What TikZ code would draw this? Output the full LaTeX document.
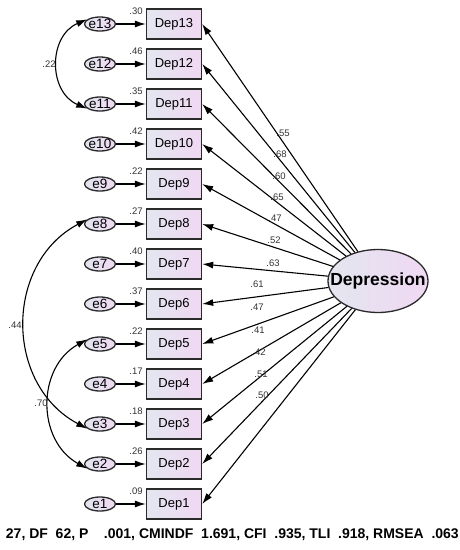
\documentclass[tikz,border=0pt]{standalone}
\usepackage{fontspec}
\setmainfont{Liberation Sans}
\usetikzlibrary{arrows.meta,shapes.geometric}
\definecolor{shL}{HTML}{E3E6EF}
\definecolor{shR}{HTML}{F0D8F3}
\definecolor{bord}{HTML}{2A2A2A}
\definecolor{lab}{HTML}{333333}
\tikzset{
  x=1pt, y=1pt,
  obs/.style={rectangle, draw=bord, line width=1.4pt, left color=shL, right color=shR,
    minimum width=55, minimum height=30, inner sep=0pt, font=\fontsize{13}{15}\selectfont},
  errnode/.style={ellipse, draw=bord, line width=1.3pt, left color=shL, right color=shR,
    minimum width=31, minimum height=14, inner sep=0pt, font=\fontsize{13.5}{15}\selectfont},
  latent/.style={ellipse, draw=bord, line width=1.3pt, left color=shL, right color=shR,
    minimum width=100, minimum height=63, inner sep=0pt, font=\bfseries\fontsize{17.5}{20}\selectfont},
  arr/.style={-{Latex[length=11pt,width=7pt]}, line width=1.1pt, black},
  cov/.style={{Latex[length=11pt,width=7pt]}-{Latex[length=11pt,width=7pt]}, line width=1.1pt, black},
  smalllab/.style={inner sep=0pt, text=lab, font=\fontsize{9.5}{11}\selectfont},
}
\begin{document}
\begin{tikzpicture}
\useasboundingbox[fill=white] (0,0) rectangle (460,-550);
\node[latent] (D) at (378,-281) {\makebox[0pt]{Depression}};
\foreach \i/\v/\lx/\ly/\l in {13/.30/283/133/.55, 12/.46/280/154/.68, 11/.35/279/176/.60,
  10/.42/277/197/.65, 9/.22/275/218/.47, 8/.27/274/240/.52, 7/.40/273/263/.63,
  6/.37/257/284/.61, 5/.22/257/307/.47, 4/.17/258/330/.41, 3/.18/259/352/.42,
  2/.26/261/374/.51, 1/.09/262/395/.50}{
  \pgfmathsetmacro\yy{-(24+40*(13-\i))}
  \node[errnode] (e\i) at (100,\yy) {\makebox[0pt]{e\i}};
  \node[obs] (d\i) at (174,\yy) {Dep\i};
  \node[smalllab, anchor=east] (v\i) at ([shift={(-3,-2.5)}]d\i.north west) {\v};
  \draw[arr] (e\i) -- (d\i);
  \draw[arr] (D) -- (d\i.east);
  \node[smalllab] (l\i) at (\lx,-\ly) {\l};
}
\draw[cov] (e13.160) to[out=203, in=157, looseness=1.22] (e11.200);
\draw[cov] (e8.160) to[out=208, in=152, looseness=1.15] (e3.200);
\draw[cov] (e5.160) to[out=209, in=151, looseness=1.15] (e2.200);
\node[smalllab] (c1) at (49,-64) {.22};
\node[smalllab] (c2) at (15,-325) {.44};
\node[smalllab] (c3) at (41,-403) {.70};
\node[inner sep=0pt, anchor=base east, font=\bfseries\fontsize{14}{16}\selectfont] (fit) at (459,-538)
  {27, DF\ \ 62, P\ \ \ \ .001, CMINDF\ \ 1.691, CFI\ \ .935, TLI\ \ .918, RMSEA\ \ .063};
\end{tikzpicture}
\end{document}
